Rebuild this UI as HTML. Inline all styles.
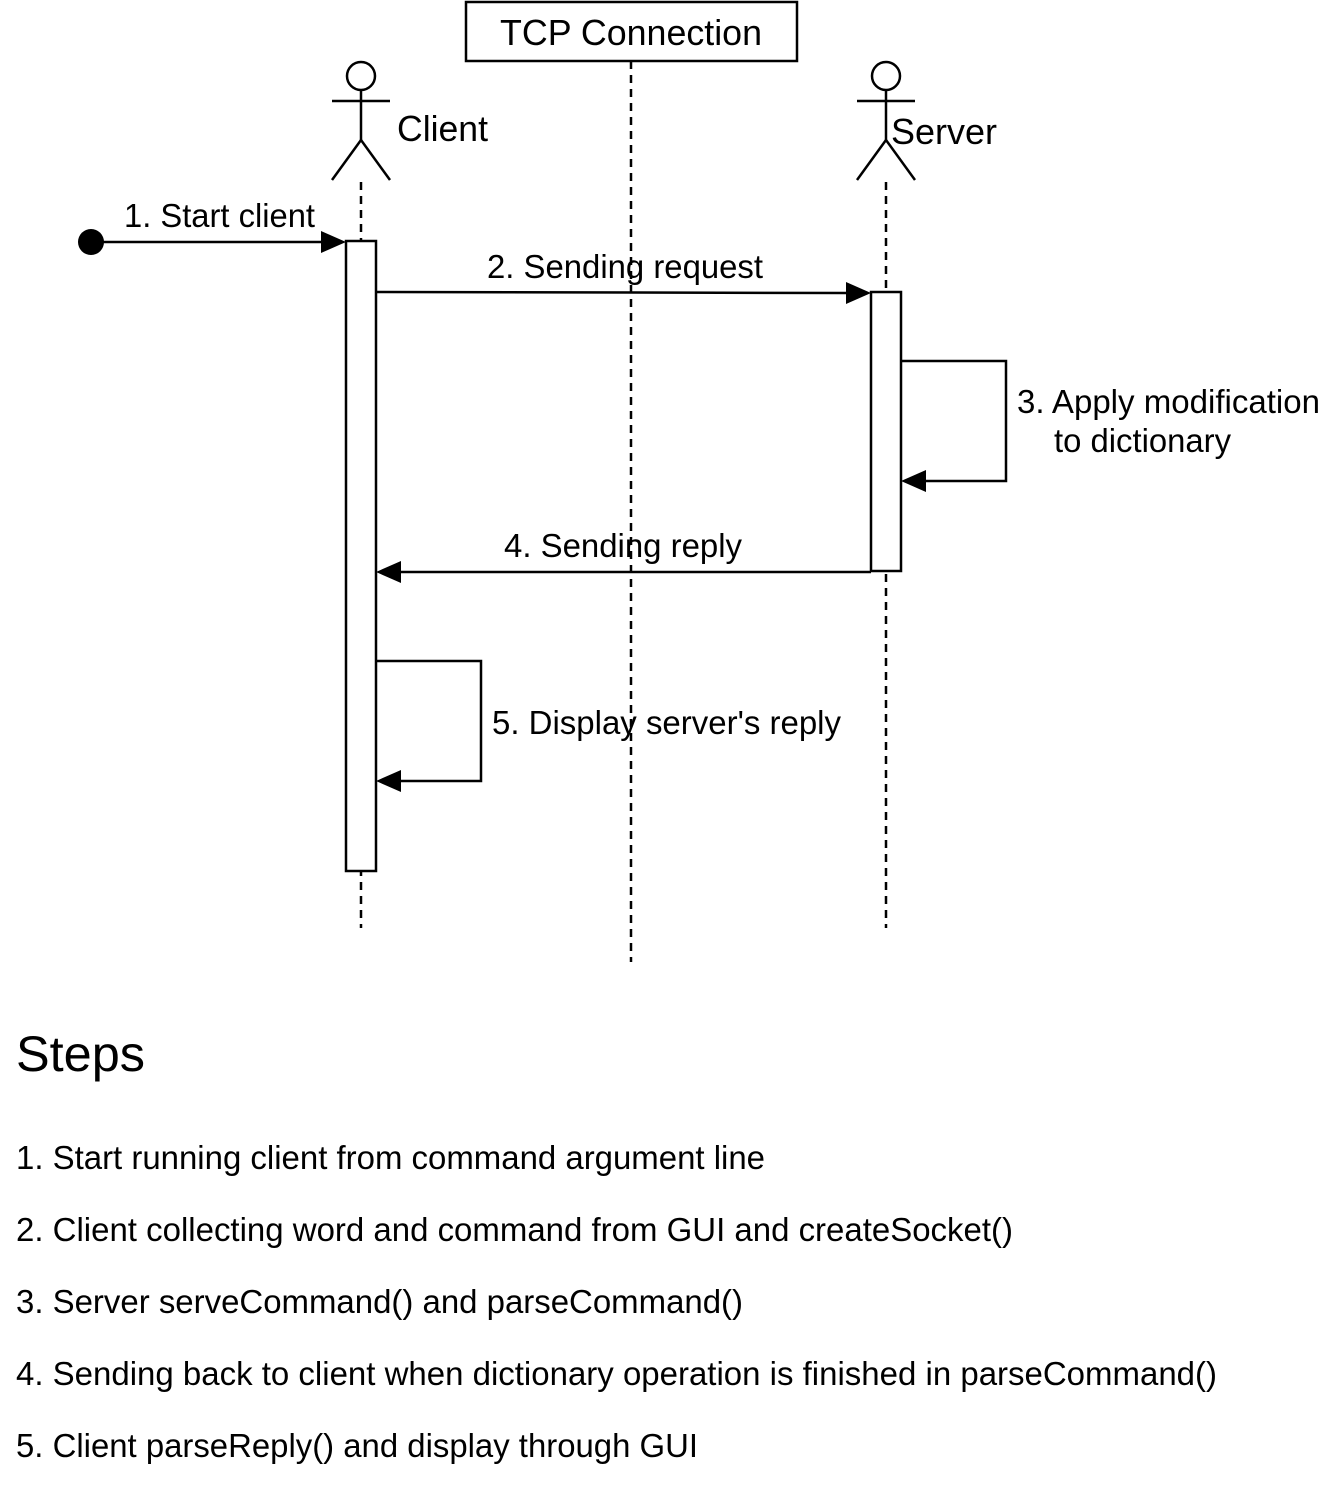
<!DOCTYPE html>
<html><head><meta charset="utf-8"><style>
html,body{margin:0;padding:0;background:#fff;}
svg{display:block;}
text{font-family:"Liberation Sans",Arial,sans-serif;fill:#000;}
</style></head><body>
<svg width="1326" height="1503" viewBox="0 0 1326 1503" xmlns="http://www.w3.org/2000/svg">
<g stroke="#000" stroke-width="2.5" fill="none">
<rect x="466" y="2" width="331" height="59" fill="#fff"/>
<line x1="631" y1="61" x2="631" y2="962" stroke-dasharray="8,6"/>
<circle cx="361" cy="76" r="14"/>
<line x1="361" y1="90" x2="361" y2="140"/>
<line x1="332" y1="101" x2="390" y2="101"/>
<line x1="361" y1="140" x2="332" y2="180"/>
<line x1="361" y1="140" x2="390" y2="180"/>
<line x1="361" y1="182" x2="361" y2="928" stroke-dasharray="8,6"/>
<circle cx="886" cy="76" r="14"/>
<line x1="886" y1="90" x2="886" y2="140"/>
<line x1="857" y1="101" x2="915" y2="101"/>
<line x1="886" y1="140" x2="857" y2="180"/>
<line x1="886" y1="140" x2="915" y2="180"/>
<line x1="886" y1="182" x2="886" y2="928" stroke-dasharray="8,6"/>
<rect x="346" y="241" width="30" height="630" fill="#fff"/>
<rect x="871" y="292" width="30" height="279" fill="#fff"/>
<line x1="91" y1="242" x2="322" y2="242"/>
<line x1="376" y1="292" x2="847" y2="293"/>
<polyline points="901,361 1006,361 1006,481 925,481"/>
<line x1="871" y1="572" x2="400" y2="572"/>
<polyline points="376,661 481,661 481,781 400,781"/>
</g>
<g fill="#000">
<circle cx="91" cy="242" r="13"/>
<polygon points="346,242 321,231 321,253"/>
<polygon points="871,293 846,282 846,304"/>
<polygon points="901,481 926,470 926,492"/>
<polygon points="376,572 401,561 401,583"/>
<polygon points="376,781 401,770 401,792"/>
</g>
<g font-size="33">
<text x="631" y="45" text-anchor="middle" font-size="36" textLength="262" lengthAdjust="spacingAndGlyphs">TCP Connection</text>
<text x="397" y="141" font-size="36" textLength="91" lengthAdjust="spacingAndGlyphs">Client</text>
<text x="891" y="144" font-size="36" textLength="106" lengthAdjust="spacingAndGlyphs">Server</text>
<text x="124" y="227" textLength="191" lengthAdjust="spacingAndGlyphs">1. Start client</text>
<text x="487" y="278" textLength="276" lengthAdjust="spacingAndGlyphs">2. Sending request</text>
<text x="1017" y="413" textLength="303" lengthAdjust="spacingAndGlyphs">3. Apply modification</text>
<text x="1054" y="452" textLength="177" lengthAdjust="spacingAndGlyphs">to dictionary</text>
<text x="504" y="557" textLength="238" lengthAdjust="spacingAndGlyphs">4. Sending reply</text>
<text x="492" y="734" textLength="349" lengthAdjust="spacingAndGlyphs">5. Display server's reply</text>
<text x="16" y="1071" font-size="50" textLength="129" lengthAdjust="spacingAndGlyphs">Steps</text>
<text x="16" y="1169" textLength="749" lengthAdjust="spacingAndGlyphs">1. Start running client from command argument line</text>
<text x="16" y="1241" textLength="997" lengthAdjust="spacingAndGlyphs">2. Client collecting word and command from GUI and createSocket()</text>
<text x="16" y="1313" textLength="727" lengthAdjust="spacingAndGlyphs">3. Server serveCommand() and parseCommand()</text>
<text x="16" y="1385" textLength="1201" lengthAdjust="spacingAndGlyphs">4. Sending back to client when dictionary operation is finished in parseCommand()</text>
<text x="16" y="1457" textLength="682" lengthAdjust="spacingAndGlyphs">5. Client parseReply() and display through GUI</text>
</g>
</svg>
</body></html>
